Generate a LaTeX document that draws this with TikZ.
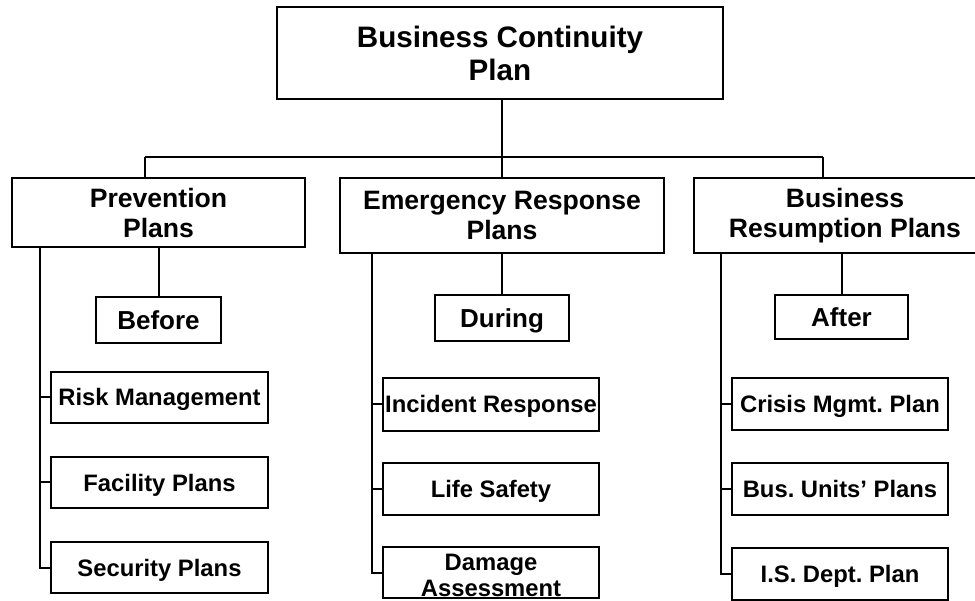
\documentclass[tikz,border=0pt]{standalone}
\usepackage{fontspec}
\setmainfont{Liberation Sans}
\frenchspacing
\begin{document}
\begin{tikzpicture}[x=1pt,y=-1pt,
  box/.style={draw=black,line width=2.4pt,fill=white,rectangle,inner sep=0pt,align=center,font=\bfseries},
  wire/.style={draw=black,line width=2pt},
  lvlone/.style={box,font=\bfseries\fontsize{29.6}{33}\selectfont},
  lvltwo/.style={box,font=\bfseries\fontsize{26.6}{30}\selectfont},
  phase/.style={box,font=\bfseries\fontsize{26}{30}\selectfont,text height=18.6pt,text depth=0pt},
  leaf/.style={box,font=\bfseries\fontsize{23.8}{26}\selectfont,text height=17pt,text depth=0pt},
  leafblank/.style={box},
  leaftext/.style={inner sep=0pt,align=center,font=\bfseries\fontsize{23.8}{26}\selectfont}]
\path[use as bounding box] (0,0) rectangle (975,601);
\clip (0,0) rectangle (975,601);
% top
\node[lvlone,minimum width=446pt,minimum height=92pt] (top) at (500,53) {Business Continuity\\Plan};
% second level
\node[lvltwo,minimum width=293pt,minimum height=69pt] (prev) at (158.5,212.5) {Prevention\\Plans};
\node[lvltwo,minimum width=324pt,minimum height=75pt] (emerg) at (502,215.5) {Emergency Response\\Plans};
\node[lvltwo,minimum width=302pt,minimum height=75pt] (resump) at (845,215.5) {Business\\Resumption Plans};
% phases
\node[phase,minimum width=125pt,minimum height=46pt] (before) at (158.5,320) {Before};
\node[phase,minimum width=134pt,minimum height=46pt] (during) at (502,318) {During};
\node[phase,minimum width=133pt,minimum height=44pt] (after) at (841.5,317) {After};
% leaves
\node[leaf,minimum width=217pt,minimum height=51pt] (risk) at (159.5,397.5) {Risk Management};
\node[leaf,minimum width=217pt,minimum height=51pt] (fac) at (159.5,482.5) {Facility Plans};
\node[leaf,minimum width=217pt,minimum height=51pt] (sec) at (159.5,567.5) {Security Plans};
\node[leaf,minimum width=216pt,minimum height=53pt] (inc) at (491,404.5) {Incident Response};
\node[leaf,minimum width=216pt,minimum height=52pt] (life) at (491,489) {Life Safety};
\node[leafblank,minimum width=216pt,minimum height=51pt] (dam) at (491,572.5) {};
\node[leaftext] (damtext) at ([yshift=-3pt]dam.center) {Damage\\Assessment};
\node[leaf,minimum width=216pt,minimum height=52pt] (cri) at (840,404) {Crisis Mgmt. Plan};
\node[leaf,minimum width=216pt,minimum height=52pt] (bus) at (840,489) {Bus. Units’ Plans};
\node[leaf,minimum width=216pt,minimum height=52pt] (isd) at (840,574) {I.S. Dept. Plan};
% bus
\coordinate (busL) at (145,157);
\coordinate (busR) at (823,157);
\draw[wire] (busL) -- (busR);
\draw[wire] (busL) -- (busL |- prev.north);
\draw[wire] (busR) -- (busR |- resump.north);
\draw[wire] (top.south -| emerg.north) -- (emerg.north);
% phases
\draw[wire] (prev.south -| before.north) -- (before.north);
\draw[wire] (emerg.south) -- (during.north);
\draw[wire] (resump.south -| after.north) -- (after.north);
% rails
\coordinate (railP) at (40,247);
\coordinate (railE) at (372,253);
\coordinate (railR) at (721,253);
\draw[wire] (railP) |- (risk.west);
\draw[wire] (railP) |- (fac.west);
\draw[wire] (railP) |- (sec.west);
\draw[wire] (railE) |- (inc.west);
\draw[wire] (railE) |- (life.west);
\draw[wire] (railE) |- (dam.west);
\draw[wire] (railR) |- (cri.west);
\draw[wire] (railR) |- (bus.west);
\draw[wire] (railR) |- (isd.west);
\end{tikzpicture}
\end{document}
